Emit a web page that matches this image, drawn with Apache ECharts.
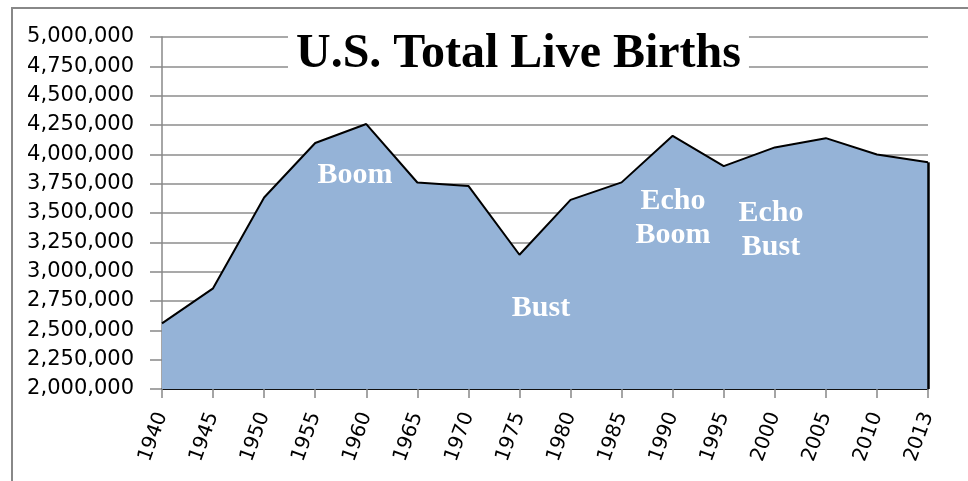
<!doctype html>
<html lang="en">
<head>
<meta charset="UTF-8">
<title>U.S. Total Live Births</title>
<style>
  html, body { margin: 0; padding: 0; background: #fff; }
  #main { width: 968px; height: 481px; }
</style>
</head>
<body>
<div id="main"></div>
<script src="https://cdn.jsdelivr.net/npm/echarts@6/dist/echarts.min.js"></script>
<script>
// data
const years = ['1940', '1945', '1950', '1955', '1960', '1965', '1970', '1975',
  '1980', '1985', '1990', '1995', '2000', '2005', '2010', '2013'];
const births = [2559000, 2858000, 3632000, 4097000, 4258000, 3760000, 3731000, 3144000,
  3612000, 3761000, 4158000, 3900000, 4059000, 4138000, 3999000, 3932000];
const yMin = 2000000;
const yMax = 5000000;
const yStep = 250000;

const chart = echarts.init(document.getElementById('main'));

const serif = '"Liberation Serif", "DejaVu Serif", serif';
// white notes on the area, x/y = centre of the block top
const note = function (text, x, y) {
  return {
    type: 'text',
    x: x, y: y,
    z: 100,
    style: {
      text: text,
      fill: '#fff',
      font: 'bold 30px ' + serif,
      textAlign: 'center',
      textVerticalAlign: 'top',
      lineHeight: 34
    }
  };
};

const option = {
  backgroundColor: '#fff',
  animation: false,
  title: {
    text: 'U.S. Total Live Births',
    left: 288,
    top: 29,
    padding: [2, 8, 4, 8],
    backgroundColor: '#fff',
    textStyle: {
      fontFamily: serif,
      fontWeight: 'bold',
      fontSize: 48,
      color: '#000'
    }
  },
  grid: { left: 162, right: 40, top: 37, bottom: 92 },
  xAxis: {
    type: 'category',
    data: years,
    boundaryGap: false,
    axisLine: { lineStyle: { color: '#111', width: 2 } },
    axisTick: { length: 9, lineStyle: { color: '#888', width: 1.5 } },
    axisLabel: {
      rotate: 70,
      margin: 24,
      fontFamily: 'DejaVu Sans',
      fontSize: 20,
      color: '#000'
    },
    splitLine: { show: false }
  },
  yAxis: {
    type: 'value',
    min: yMin,
    max: yMax,
    interval: yStep,
    axisLine: { show: true, lineStyle: { color: '#888', width: 1.5 } },
    axisTick: { show: true, length: 12, lineStyle: { color: '#888', width: 1.5 } },
    axisLabel: {
      margin: 28,
      fontFamily: 'DejaVu Sans',
      fontSize: 21,
      color: '#000',
      formatter: function (v) { return v.toLocaleString('en-US'); }
    },
    splitLine: { lineStyle: { color: '#8c8c8c', width: 1.5 } }
  },
  series: [{
    type: 'line',
    data: births,
    symbol: 'none',
    lineStyle: { color: '#000', width: 2 },
    areaStyle: { color: '#95b3d7', opacity: 1, origin: 'start' },
    markLine: {
      silent: true,
      symbol: 'none',
      label: { show: false },
      lineStyle: { color: '#000', width: 2.5, type: 'solid' },
      data: [[
        { coord: [years[years.length - 1], yMin] },
        { coord: [years[years.length - 1], births[births.length - 1]] }
      ]]
    }
  }],
  graphic: [
    {
      type: 'polyline',
      z: 0,
      shape: { points: [[12, 481], [12, 8], [968, 8]] },
      style: { stroke: '#888', lineWidth: 2, fill: null }
    },
    note('Boom', 355, 158),
    note('Bust', 541, 291),
    note('Echo\nBoom', 673, 184),
    note('Echo\nBust', 771, 196)
  ]
};

chart.setOption(option);
</script>
</body>
</html>
